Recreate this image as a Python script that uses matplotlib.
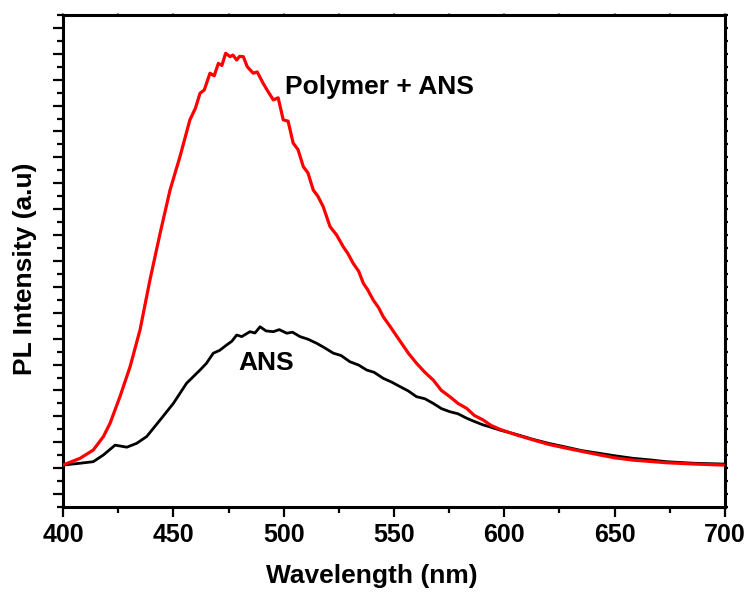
import numpy as np
import matplotlib
matplotlib.use("Agg")
import matplotlib.pyplot as plt
from matplotlib.ticker import MultipleLocator, NullFormatter

plt.rcParams['font.family'] = ['Liberation Sans', 'DejaVu Sans']
plt.rcParams['font.weight'] = 'bold'

# PL spectra (arbitrary units), read point by point
wl_poly = [400, 407.7, 413.7, 418.3, 421.3, 425.8, 430.4, 434.9, 439.4, 444,
           448.5, 453, 457.5, 460, 462.1, 464, 466.6, 468.5, 470.4, 472, 473.7,
           475.7, 477, 478.7, 480, 481.7, 483.5, 486.2, 488, 490.7, 492.5, 495.3,
           497.5, 499.8, 502, 504.3, 506.5, 508.9, 511, 513.4, 515.5, 517.9, 521,
           524, 527, 529, 531.5, 534, 536.1, 538, 540.6, 543, 545.1, 548, 552,
           556.5, 560.2, 564, 567.8, 571.5, 575.3, 579, 582.9, 586.5, 590.4, 594,
           598, 605.6, 613.1, 620, 628.2, 635, 643.3, 650, 658.4, 666, 673.5,
           686, 699.2]
pl_poly = [112, 138, 170, 222, 273, 376, 492, 634, 827, 1007,
           1174, 1303, 1445, 1490, 1548, 1560, 1625, 1615, 1663, 1655, 1702,
           1689, 1695, 1676, 1690, 1689, 1650, 1625, 1630, 1586, 1560, 1522,
           1530, 1445, 1440, 1355, 1330, 1264, 1240, 1174, 1150, 1110, 1033,
           1000, 955, 930, 891, 860, 814, 790, 749, 720, 685, 650, 600,
           544, 505, 470, 440, 400, 376, 350, 331, 303, 286, 265,
           250, 228, 209, 192, 177, 165, 151, 140, 131, 126, 121,
           116, 112]

wl_ans = [400, 407.7, 413.7, 418.3, 423.6, 428.9, 433.4, 437.9, 444, 450,
          456, 462.1, 465, 468.1, 471, 474.2, 476.5, 478.7, 481, 484.7, 487,
          489.3, 492, 495.3, 498, 501.4, 504, 507.4, 511, 515, 518.5, 522.5,
          526, 530, 534, 537.6, 541, 545.1, 549, 552.7, 556.5, 560.2, 564,
          567.8, 571.5, 575.3, 579, 582.9, 586.5, 590.4, 594, 598, 605.6,
          613.1, 620, 628.2, 635, 643.3, 650, 658.4, 666, 673.5, 686, 699.2]
pl_ans = [112, 119, 125, 151, 189, 181, 196, 222, 286, 350,
          428, 479, 505, 544, 555, 576, 590, 614, 608, 627, 622,
          646, 630, 627, 635, 621, 625, 608, 598, 582, 565, 544,
          535, 511, 498, 479, 470, 447, 432, 415, 398, 376, 368,
          350, 330, 318, 310, 293, 280, 267, 258, 247, 230,
          211, 196, 181, 168, 157, 148, 138, 132, 125, 119, 116]

fig = plt.figure(figsize=(7.53, 5.93), dpi=100)
ax = fig.add_axes([0.0837, 0.145, 0.8791, 0.8298])

ax.plot(wl_ans, pl_ans, color='black', lw=2.0, zorder=3)
ax.plot(wl_poly, pl_poly, color='#ff0000', lw=2.3, zorder=4)

ax.text(500.6, 1572, 'Polymer + ANS', fontsize=19, fontweight='bold', va='center', ha='left')
ax.text(479.3, 506, 'ANS', fontsize=19, fontweight='bold', va='center', ha='left')

ax.set_xlim(400, 700)
ax.set_ylim(-50, 1850)
ax.xaxis.set_major_locator(MultipleLocator(50))
ax.xaxis.set_minor_locator(MultipleLocator(25))
ax.yaxis.set_major_locator(MultipleLocator(100))
ax.yaxis.set_minor_locator(MultipleLocator(50))
ax.yaxis.set_major_formatter(NullFormatter())

for s in ax.spines.values():
    s.set_linewidth(2.2)

ax.tick_params(axis='x', which='major', direction='out', length=7.5, width=1.6,
               labelsize=18, pad=4, top=True)
ax.tick_params(axis='x', which='minor', direction='out', length=4.5, width=1.6, top=True)
ax.tick_params(axis='y', which='major', direction='out', length=7.5, width=1.6,
               right=True)
ax.tick_params(axis='y', which='minor', direction='out', length=4.5, width=1.6,
               right=True)
for t in ax.xaxis.get_major_ticks() + ax.xaxis.get_minor_ticks():
    t.tick2line.set_markersize(1.5)
    t.tick2line.set_markeredgecolor('#999999')
for t in ax.yaxis.get_major_ticks() + ax.yaxis.get_minor_ticks():
    t.tick2line.set_markersize(2.0)
for lab in ax.get_xticklabels():
    lab.set_fontweight('bold')

ax.set_xlabel('Wavelength (nm)', fontsize=19, fontweight='bold', labelpad=14)
ax.set_ylabel('PL Intensity (a.u)', fontsize=19, fontweight='bold', labelpad=8)
ax.xaxis.set_label_coords(0.467, -0.115, transform=ax.transAxes)
ax.yaxis.label.set_y(0.484)

fig.savefig('out.png', dpi=100)
